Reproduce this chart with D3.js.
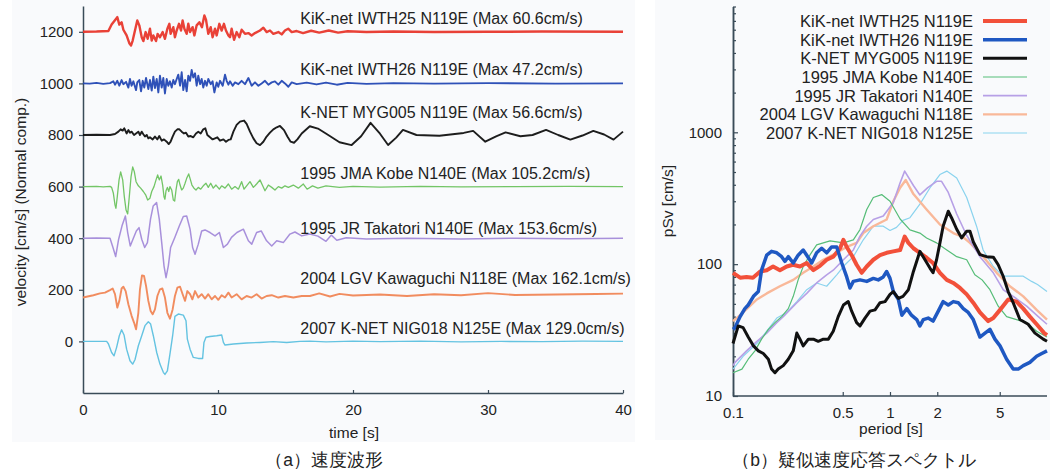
<!DOCTYPE html>
<html><head><meta charset="utf-8">
<script src="https://cdn.jsdelivr.net/npm/d3@7"></script>
<style>
body{margin:0;background:#fff;}
text{font-family:"Liberation Sans",Arial,Helvetica,sans-serif;fill:#222;}
</style>
</head><body>
<svg id="c" width="1057" height="473"></svg>
<script>
// ---------- DATA ----------
const seriesNames = ["KiK-net IWTH25 N119E","KiK-net IWTH26 N119E","K-NET MYG005 N119E","1995 JMA Kobe N140E","1995 JR Takatori N140E","2004 LGV Kawaguchi N118E","2007 K-NET NIG018 N125E"];
const maxVel = ["60.6","47.2","56.6","105.2","153.6","162.1","129.0"];
const waveOffsets = [1200,1000,800,600,400,200,0];
const labelLevels = [1230,1032,866,629,416,222,29];
const labelTime = 16.1;
const timeTicks = [0,10,20,30,40];
const velTicks = [0,200,400,600,800,1000,1200];
const periodTicks = [0.1,0.5,1,2,5];
const psvTicks = [10,100,1000];

// velocity waveforms [time s, velocity cm/s]
const waveIWTH25 = [[0,0],[1.0,1],[1.88,3],[2.12,28],[2.25,37],[2.44,50],[2.54,57],[2.69,28],[2.86,37],[2.99,8],[3.23,-14],[3.43,-44],[3.56,-53],[3.68,-34],[3.85,5],[4.02,44],[4.17,25],[4.35,-21],[4.47,-36],[4.64,-1],[4.79,-27],[4.96,12],[5.09,-34],[5.21,-14],[5.41,-36],[5.53,-8],[5.70,-21],[5.90,-1],[6.07,-27],[6.25,12],[6.40,31],[6.49,-8],[6.69,18],[6.81,-21],[6.94,5],[7.11,31],[7.26,5],[7.38,44],[7.51,12],[7.68,-8],[7.80,31],[7.93,-1],[8.12,18],[8.25,-14],[8.42,25],[8.62,37],[8.81,18],[8.99,63],[9.11,47],[9.28,-8],[9.46,18],[9.60,-21],[9.78,12],[9.90,-14],[10.10,31],[10.27,5],[10.44,31],[10.59,5],[10.77,-14],[10.89,-21],[11.01,12],[11.19,-31],[11.38,-1],[11.58,-21],[11.75,8],[12.0,-8],[12.25,-5],[12.49,-14],[12.74,-5],[13.11,5],[13.36,16],[13.6,-1],[13.85,5],[14.1,-8],[14.47,-1],[14.72,-10],[14.96,5],[15.2,12],[15.46,-1],[15.83,3],[16.3,-5],[16.9,4],[17.5,-3],[18.2,5],[18.9,-3],[19.6,2],[21,-1],[23,1],[26,-1],[30,0],[34,1],[40,0]];
const waveIWTH26 = [[0,0],[0.5,-1],[1.0,2],[1.5,-2],[2.0,1],[2.25,8],[2.37,-5],[2.54,10],[2.69,-9],[2.86,13],[2.99,-3],[3.19,6],[3.36,-16],[3.48,17],[3.60,-9],[3.73,8],[3.93,-26],[4.02,4],[4.17,13],[4.30,-31],[4.42,10],[4.54,-16],[4.67,21],[4.84,-22],[4.96,13],[5.09,-28],[5.21,26],[5.33,-18],[5.46,17],[5.58,-35],[5.70,30],[5.83,-16],[5.95,21],[6.07,-39],[6.20,17],[6.32,-9],[6.44,8],[6.57,-16],[6.69,13],[6.81,-3],[6.94,17],[7.06,34],[7.19,-9],[7.31,43],[7.43,-26],[7.56,13],[7.68,-31],[7.80,30],[7.93,10],[8.05,52],[8.17,23],[8.30,39],[8.42,-9],[8.54,30],[8.67,-3],[8.79,17],[8.91,-16],[9.04,10],[9.16,-9],[9.28,17],[9.46,-3],[9.60,8],[9.73,-35],[9.90,4],[10.02,-13],[10.15,10],[10.35,-9],[10.52,34],[10.64,10],[10.77,-5],[10.89,8],[11.09,-9],[11.26,4],[11.51,-3],[11.75,10],[12.0,-3],[12.25,21],[12.49,-9],[12.74,4],[12.99,-9],[13.23,0],[13.48,10],[13.73,-5],[13.98,4],[14.22,8],[14.47,-5],[14.72,10],[14.96,0],[15.21,-13],[15.46,4],[15.83,-3],[16.57,3],[17.3,-4],[18.0,3],[18.8,-5],[19.6,2],[21,-2],[23,1],[26,-1],[30,1],[35,-1],[40,0]];
const waveMYG005 = [[0,0],[1.0,1],[2.0,0],[2.37,4],[2.62,13],[2.79,22],[2.94,17],[3.06,26],[3.23,6],[3.36,19],[3.48,9],[3.60,13],[3.78,0],[3.93,6],[4.10,13],[4.22,0],[4.35,13],[4.47,3],[4.59,-6],[4.72,0],[4.84,-13],[4.96,-9],[5.16,-17],[5.33,-6],[5.51,-17],[5.65,-4],[5.83,-22],[6.0,-17],[6.20,-26],[6.35,-35],[6.49,-26],[6.64,-6],[6.81,13],[6.99,22],[7.14,22],[7.31,13],[7.48,6],[7.63,9],[7.80,-6],[7.98,-4],[8.17,-9],[8.37,6],[8.54,13],[8.72,6],[8.91,22],[9.06,26],[9.21,0],[9.41,-9],[9.60,-17],[9.78,-13],[9.95,-9],[10.15,-22],[10.40,-17],[10.59,-26],[10.77,-19],[10.94,-17],[11.14,13],[11.38,39],[11.63,52],[11.93,56],[12.12,43],[12.37,13],[12.62,-13],[12.86,-32],[13.11,-39],[13.36,-26],[13.60,-6],[13.85,9],[14.10,22],[14.35,30],[14.59,35],[14.89,19],[15.14,-6],[15.38,-26],[15.63,-30],[15.88,-17],[16.20,6],[16.8,34],[17.4,25],[18.05,4],[19.0,-28],[19.9,-39],[20.6,-5],[21.3,47],[22.0,5],[22.6,-39],[23.2,-10],[23.7,20],[24.7,0],[26.4,-3],[28.2,8],[28.9,16],[29.8,-26],[30.6,-5],[31.3,10],[32.4,-5],[33.3,0],[34.3,20],[35.2,0],[36.1,-18],[37.0,-2],[37.8,16],[38.6,2],[39.3,-18],[40,13]];
const waveKobe = [[0,0],[1.0,1],[1.5,-1],[2.0,1],[2.12,-3],[2.25,-26],[2.37,-71],[2.44,-84],[2.54,-39],[2.67,26],[2.79,57],[2.94,26],[3.06,-39],[3.19,-91],[3.31,-106],[3.43,-39],[3.56,39],[3.68,76],[3.80,58],[3.93,19],[4.10,3],[4.27,-6],[4.47,-19],[4.64,-32],[4.79,-52],[4.96,-45],[5.09,-19],[5.26,0],[5.41,26],[5.53,45],[5.65,26],[5.78,41],[5.90,6],[6.0,-39],[6.07,-49],[6.15,-16],[6.25,-3],[6.35,-19],[6.44,0],[6.57,-13],[6.69,-52],[6.79,-56],[6.89,-13],[6.99,19],[7.09,28],[7.19,6],[7.31,-13],[7.43,-6],[7.56,13],[7.68,32],[7.83,49],[7.95,28],[8.07,6],[8.22,-6],[8.37,-13],[8.54,-3],[8.72,-10],[8.91,3],[9.11,13],[9.28,-3],[9.46,13],[9.65,-6],[9.85,6],[10.10,-10],[10.27,3],[10.52,-6],[10.77,10],[11.01,-10],[11.26,0],[11.51,-10],[11.75,19],[11.93,-10],[12.12,3],[12.37,19],[12.62,-3],[12.86,10],[13.11,26],[13.31,3],[13.48,-16],[13.73,6],[13.98,-3],[14.22,-13],[14.47,0],[14.72,-6],[14.96,3],[15.21,-3],[15.58,6],[15.95,-6],[16.32,10],[16.6,-10],[17.0,3],[17.4,-6],[18,3],[19,-3],[20,1],[22,-2],[25,1],[28,-1],[32,0],[36,1],[40,0]];
const waveTakatori = [[0,0],[1.0,1],[2.0,0],[2.22,-36],[2.42,-71],[2.64,-4],[2.89,48],[3.14,86],[3.31,22],[3.5,-30],[3.7,-4],[3.95,28],[4.15,41],[4.35,-4],[4.57,-36],[4.77,-17],[5.0,74],[5.2,125],[5.45,138],[5.65,74],[5.83,-17],[6.0,-107],[6.15,-153],[6.32,-107],[6.49,-36],[6.8,3],[7.14,48],[7.43,84],[7.68,86],[7.93,35],[8.12,-36],[8.3,-62],[8.54,-23],[8.79,28],[9.04,32],[9.41,22],[9.78,9],[10.1,22],[10.4,-36],[10.7,-23],[11.0,3],[11.4,22],[11.88,35],[12.25,-10],[12.5,-23],[12.86,22],[13.2,28],[13.6,-10],[13.98,-30],[14.35,-10],[14.84,-17],[15.33,16],[15.7,24],[16.2,9],[16.8,16],[17.4,8],[18.0,-12],[18.4,12],[18.8,-8],[19.5,2],[21,-3],[24,0],[28,-3],[32,0],[36,-2],[40,0]];
const waveKawaguchi = [[0,-30],[0.77,-21],[1.26,-14],[1.63,-11],[2.0,-1],[2.20,5],[2.37,-17],[2.54,-69],[2.69,-43],[2.86,5],[2.99,12],[3.16,-5],[3.36,-56],[3.60,-101],[3.78,-127],[3.93,-153],[4.10,-89],[4.22,2],[4.37,56],[4.52,54],[4.67,15],[4.84,-43],[5.01,-82],[5.16,-95],[5.33,-76],[5.51,-24],[5.70,2],[5.88,5],[6.07,-30],[6.25,-89],[6.44,-112],[6.64,-76],[6.81,-24],[6.99,8],[7.19,12],[7.38,-17],[7.56,-43],[7.73,-5],[7.93,-17],[8.10,-37],[8.30,-5],[8.54,-30],[8.79,-17],[9.04,-34],[9.28,-17],[9.53,-37],[9.78,-24],[10.02,-39],[10.27,-21],[10.52,-30],[10.77,-11],[11.01,-30],[11.38,-17],[11.75,-37],[12.12,-24],[12.49,-30],[12.86,-17],[13.23,-34],[13.6,-24],[13.98,-21],[14.47,-30],[14.96,-24],[15.58,-30],[16.2,-24],[16.81,-24],[17.5,-14],[18.3,-26],[19.0,-16],[20,-22],[22,-18],[24,-24],[26,-17],[28,-21],[30,-13],[32,-20],[35,-18],[38,-16],[40,-15]];
const waveNIG018 = [[0,0],[1.75,0],[1.88,-9],[2.12,-43],[2.30,-56],[2.49,-23],[2.69,22],[2.86,45],[3.04,25],[3.23,-30],[3.48,-75],[3.68,-88],[3.85,-71],[4.10,-17],[4.35,22],[4.59,61],[4.84,76],[5.01,67],[5.21,22],[5.46,-43],[5.70,-88],[5.95,-120],[6.07,-128],[6.25,-114],[6.44,-49],[6.64,22],[6.81,97],[7.06,106],[7.43,102],[7.63,80],[7.73,9],[7.93,-30],[8.17,-62],[8.54,-66],[8.86,-66],[8.96,-4],[9.11,16],[9.41,19],[9.90,22],[10.27,25],[10.40,-4],[10.52,-14],[11.14,-10],[12.12,-6],[13.11,-4],[14.1,-1],[15.09,-4],[16.07,0],[16.81,1],[18,-2],[20,1],[22,-1],[25,1],[28,-2],[31,0],[34,-1],[37,1],[40,0]];

// pseudo velocity response spectra [period s, pSv cm/s]
const specIWTH25 = [[0.1,86],[0.111,79],[0.122,80],[0.134,79],[0.149,88],[0.164,90],[0.180,96],[0.199,90],[0.220,96],[0.241,99],[0.267,96],[0.295,102],[0.325,90],[0.358,97],[0.395,108],[0.435,114],[0.481,132],[0.505,153],[0.530,135],[0.570,117],[0.613,99],[0.660,86],[0.711,96],[0.783,108],[0.864,117],[0.952,122],[1.05,125],[1.16,128],[1.24,162],[1.31,145],[1.41,132],[1.55,122],[1.71,112],[1.88,102],[2.08,86],[2.30,76],[2.53,72],[2.79,66],[3.08,59],[3.39,51],[3.74,43],[4.22,37],[4.55,39],[5.02,45],[5.66,54],[6.40,52],[7.06,46],[7.78,40],[8.59,35],[9.6,30],[10,29]];
const specIWTH26 = [[0.1,32],[0.103,33],[0.111,40],[0.119,46],[0.125,49],[0.135,57],[0.145,62],[0.152,90],[0.164,117],[0.176,125],[0.190,122],[0.204,114],[0.214,105],[0.225,114],[0.242,102],[0.260,117],[0.280,128],[0.302,112],[0.317,102],[0.341,122],[0.367,132],[0.395,122],[0.425,135],[0.458,135],[0.493,102],[0.530,80],[0.556,66],[0.584,74],[0.644,76],[0.711,74],[0.783,78],[0.842,76],[0.906,80],[0.952,88],[1.0,78],[1.05,62],[1.13,54],[1.19,41],[1.28,46],[1.37,41],[1.48,38],[1.55,34],[1.63,38],[1.75,39],[1.88,37],[2.03,44],[2.18,52],[2.35,49],[2.53,52],[2.72,51],[2.93,46],[3.15,43],[3.39,38],[3.74,28],[4.03,30],[4.33,32],[4.66,27],[5.02,24],[5.53,19],[6.09,16],[6.56,16],[7.06,17],[7.78,18],[8.59,20],[9.26,21],[10,22]];
const specMYG005 = [[0.1,25],[0.108,34],[0.116,33],[0.125,28],[0.135,24],[0.145,22],[0.156,21],[0.168,19],[0.176,16],[0.185,15],[0.194,16],[0.209,17],[0.225,19],[0.242,22],[0.255,30],[0.267,27],[0.280,24],[0.302,27],[0.325,27],[0.349,26],[0.376,27],[0.405,27],[0.435,31],[0.468,40],[0.505,49],[0.542,52],[0.570,44],[0.613,36],[0.644,34],[0.693,39],[0.746,44],[0.803,45],[0.864,51],[0.930,52],[1.0,59],[1.05,62],[1.13,55],[1.21,57],[1.31,64],[1.41,88],[1.55,125],[1.67,108],[1.80,93],[1.88,86],[1.98,108],[2.08,145],[2.18,194],[2.35,252],[2.47,224],[2.66,184],[2.86,158],[3.08,178],[3.23,178],[3.39,148],[3.74,118],[4.12,114],[4.55,113],[4.89,99],[5.26,81],[5.66,62],[6.09,51],[6.72,38],[7.59,35],[8.38,30],[9.46,27],[10,26]];
const specKobe = [[0.1,15],[0.114,16],[0.125,19],[0.138,22],[0.152,27],[0.168,32],[0.185,36],[0.204,40],[0.225,46],[0.242,57],[0.260,76],[0.280,96],[0.310,118],[0.341,140],[0.376,145],[0.415,150],[0.505,145],[0.584,153],[0.644,183],[0.711,260],[0.783,320],[0.885,337],[1.0,300],[1.16,220],[1.34,182],[1.55,172],[1.71,158],[1.98,145],[2.30,128],[2.66,114],[3.08,108],[3.47,83],[3.86,76],[4.33,64],[4.89,48],[5.53,40],[6.40,38],[7.42,36],[8.59,31],[10,28]];
const specTakatori = [[0.1,17],[0.103,18],[0.122,22],[0.142,26],[0.164,30],[0.190,36],[0.209,40],[0.255,51],[0.295,60],[0.341,72],[0.395,83],[0.435,90],[0.505,108],[0.584,128],[0.644,163],[0.711,194],[0.783,218],[0.906,232],[1.05,293],[1.16,415],[1.24,508],[1.41,395],[1.55,335],[1.74,380],[1.98,425],[2.13,425],[2.35,350],[2.66,240],[3.08,165],[3.74,114],[4.55,86],[5.26,64],[6.09,57],[7.42,48],[8.8,40],[10,35]];
const specKawaguchi = [[0.1,37],[0.103,38],[0.116,43],[0.142,54],[0.164,60],[0.199,68],[0.242,76],[0.280,86],[0.325,96],[0.376,108],[0.435,118],[0.530,135],[0.613,145],[0.676,172],[0.783,194],[0.952,218],[1.05,300],[1.16,380],[1.26,435],[1.41,340],[1.71,260],[2.08,200],[2.53,172],[2.93,160],[3.23,145],[3.92,114],[4.78,86],[5.80,68],[7.06,57],[8.59,45],[10,38]];
const specNIG018 = [[0.1,16],[0.116,20],[0.142,25],[0.164,31],[0.190,39],[0.220,43],[0.255,52],[0.295,64],[0.341,72],[0.395,68],[0.458,83],[0.517,99],[0.584,114],[0.676,153],[0.783,194],[0.906,194],[1.0,180],[1.10,190],[1.21,215],[1.34,225],[1.55,285],[1.80,380],[2.08,478],[2.30,508],[2.66,450],[3.08,320],[3.56,194],[3.92,128],[4.55,96],[5.26,81],[6.09,81],[7.06,81],[7.98,74],[8.7,70],[10,62]];

const waves = [waveIWTH25,waveIWTH26,waveMYG005,waveKobe,waveTakatori,waveKawaguchi,waveNIG018];
const spectra = [specIWTH25,specIWTH26,specMYG005,specKobe,specTakatori,specKawaguchi,specNIG018];

// ---------- STYLE ----------
const waveColors = ["#e8372c","#2448b4","#111111","#6cc25e","#a38ad9","#f08656","#5cc0df"];
const waveWidths = [2.4,1.9,1.9,1.3,1.5,1.9,1.4];
const specColors = ["#f2503a","#1f58c2","#111111","#56bd78","#b7a0e6","#f9b899","#8ad3ee"];
const specWidths = [4,3.5,3,1.2,1.6,2.4,1.2];
const axisColor = "#3a4b58";

const svg = d3.select("#c");

// panel backgrounds
svg.append("rect").attr("x",12).attr("y",0).attr("width",623).attr("height",442).attr("fill","#f9fafc");
svg.append("rect").attr("x",655).attr("y",0).attr("width",395).attr("height",440).attr("fill","#f9fafc");

// ---------- LEFT PANEL ----------
const xL = d3.scaleLinear().domain([0,40]).range([83,623]);
const yL = d3.scaleLinear().domain([-200,1300]).range([393,6]);

function styleAxis(g){
  g.select(".domain").attr("stroke",axisColor).attr("stroke-width",1.5);
  g.selectAll(".tick line").attr("stroke",axisColor).attr("stroke-width",1.2);
  g.selectAll(".tick text").attr("font-size",15).attr("fill","#222")
    .attr("font-family","'Liberation Sans',Arial,sans-serif");
}

const gxL = svg.append("g").attr("transform","translate(0,393)")
  .call(d3.axisBottom(xL).tickValues(timeTicks).tickSize(-3).tickSizeOuter(0).tickPadding(11).tickFormat(d3.format("d")));
styleAxis(gxL);
const gyL = svg.append("g").attr("transform","translate(83,0)")
  .call(d3.axisLeft(yL).tickValues(velTicks).tickSize(4).tickSizeOuter(0).tickPadding(6).tickFormat(d3.format("d")));
styleAxis(gyL);

const lineL = d3.line().x(d=>xL(d[0])).y(d=>d[1]);
waves.forEach((w,i)=>{
  svg.append("path")
    .datum(w.map(p=>[p[0], yL(p[1]+waveOffsets[i])]))
    .attr("d",lineL).attr("fill","none")
    .attr("stroke",waveColors[i]).attr("stroke-width",waveWidths[i])
    .attr("stroke-linejoin","round").attr("opacity",0.95);
  svg.append("text").attr("x",xL(labelTime)).attr("y",yL(labelLevels[i]))
    .attr("font-size",16).text(seriesNames[i]+" (Max "+maxVel[i]+"cm/s)");
});

svg.append("text").attr("x",354).attr("y",438).attr("text-anchor","middle").attr("font-size",15.5).text("time [s]");
svg.append("text").attr("transform","translate(20,202) rotate(-90)").attr("text-anchor","middle")
  .attr("dominant-baseline","central").attr("font-size",15.5).text("velocity [cm/s] (Normal comp.)");

// ---------- RIGHT PANEL ----------
const xR = d3.scaleLog().domain([0.1,10]).range([733,1047]);
const yR = d3.scaleLog().domain([10,9000]).range([396,6.5]);

const gxR = svg.append("g").attr("transform","translate(0,396)")
  .call(d3.axisBottom(xR).tickValues(periodTicks).tickSize(-4).tickSizeOuter(0).tickPadding(11).tickFormat(d=>String(d)));
styleAxis(gxR);
gxR.select(".domain").attr("d","M733,0H1047");
const minorY = [];
[10,100,1000].forEach(b=>{for(let k=2;k<=9;k++){ if(b*k<=9000) minorY.push(b*k); }});
const gyRm = svg.append("g").attr("transform","translate(733,0)")
  .call(d3.axisLeft(yR).tickValues(minorY).tickSize(-3).tickSizeOuter(0).tickFormat(""));
styleAxis(gyRm);
const gyR = svg.append("g").attr("transform","translate(733,0)")
  .call(d3.axisLeft(yR).tickValues(psvTicks).tickSize(-5).tickSizeOuter(0).tickPadding(11).tickFormat(d3.format("d")));
styleAxis(gyR);

const lineR = d3.line().x(d=>xR(d[0])).y(d=>yR(d[1]));
const drawOrder = [6,5,4,3,0,1,2];
drawOrder.forEach(i=>{
  svg.append("path").datum(spectra[i]).attr("d",lineR).attr("fill","none")
    .attr("stroke",specColors[i]).attr("stroke-width",specWidths[i])
    .attr("stroke-linejoin","round");
});

// legend
const legendRowY = d3.scaleLinear().domain([0,6]).range([21,133]);
seriesNames.forEach((n,i)=>{
  const yy = legendRowY(i);
  svg.append("text").attr("x",973).attr("y",yy).attr("dy","0.36em").attr("text-anchor","end")
    .attr("font-size",16.5).text(n);
  svg.append("line").attr("x1",983).attr("x2",1027).attr("y1",yy).attr("y2",yy)
    .attr("stroke",specColors[i]).attr("stroke-width",specWidths[i]);
});

svg.append("text").attr("x",891).attr("y",434).attr("text-anchor","middle").attr("font-size",15.5).text("period [s]");
svg.append("text").attr("transform","translate(667,201) rotate(-90)").attr("text-anchor","middle")
  .attr("dominant-baseline","central").attr("font-size",15.5).text("pSv [cm/s]");

// captions
svg.append("text").attr("x",324).attr("y",466).attr("text-anchor","middle")
  .attr("font-family","'Noto Sans CJK JP',sans-serif").attr("font-size",17.5).text("（a）速度波形");
svg.append("text").attr("x",854).attr("y",466).attr("text-anchor","middle")
  .attr("font-family","'Noto Sans CJK JP',sans-serif").attr("font-size",17.5).text("（b）疑似速度応答スペクトル");
</script>
</body></html>
